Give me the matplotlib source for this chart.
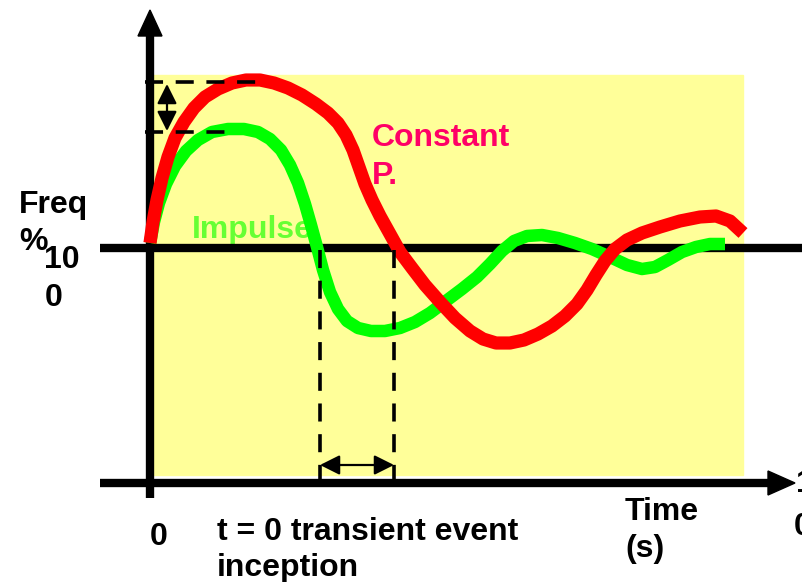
import matplotlib.pyplot as plt

# schematic, units are picture pixels (y grows downward)
red_x = [150, 153, 157, 162, 168, 175, 184, 194, 205, 218, 232, 246, 260, 274, 288, 302, 316,
         328, 338, 346, 353, 359, 365, 372, 380, 390, 400, 412, 425, 440, 455, 470, 483, 496,
         510, 524, 538, 552, 565, 577, 587, 596, 605, 615, 627, 642, 660, 680, 700, 716, 730,
         743]
red_y = [243, 222, 200, 178, 157, 138, 122, 108, 97, 89, 83, 80, 80, 83, 88, 95, 104,
         113, 123, 135, 150, 167, 184, 200, 216, 234, 252, 268, 285, 302, 318, 331, 339, 343,
         343, 340, 334, 326, 316, 304, 290, 275, 261, 249, 240, 233, 227, 221, 217, 216, 221,
         233]

green_x = [150, 154, 159, 166, 175, 186, 198, 212, 228, 244, 258, 270, 281, 290, 298, 305, 311,
           317, 323, 330, 338, 347, 358, 371, 385, 400, 415, 430, 446, 462, 477, 490, 502, 514,
           527, 542, 558, 575, 592, 610, 627, 642, 655, 668, 682, 696, 710, 725]
green_y = [243, 222, 203, 184, 166, 151, 140, 132, 129, 129, 132, 139, 150, 165, 183, 204, 225,
           247, 270, 292, 309, 321, 328, 331, 331, 328, 322, 313, 301, 289, 277, 264, 251, 241,
           236, 235, 238, 243, 249, 257, 265, 269, 267, 260, 252, 247, 244, 244]

fig = plt.figure(figsize=(8.02, 5.82), dpi=100)
ax = fig.add_axes([0, 0, 1, 1])
ax.set_xlim(0, 802)
ax.set_ylim(582, 0)
ax.axis('off')

# yellow background
ax.add_patch(plt.Rectangle((150, 75), 593, 400, color='#FFFF99', zorder=0))

# axes
ax.plot([100, 802], [248, 248], color='black', lw=6, solid_capstyle='butt', zorder=2)
ax.plot([150, 150], [498, 30], color='black', lw=6, solid_capstyle='butt', zorder=2)
ax.plot([100, 775], [483, 483], color='black', lw=6, solid_capstyle='butt', zorder=2)
ax.add_patch(plt.Polygon([[138, 36], [162, 36], [150, 10]], color='black', zorder=3))
ax.add_patch(plt.Polygon([[768, 471], [768, 495], [795, 483]], color='black', zorder=3))

# dashed guides
dash = dict(color='black', lw=2.6, dashes=(5, 3.5), zorder=4)
ax.plot([145, 262], [82, 82], **dash)
ax.plot([145, 235], [132, 132], **dash)
ax.plot([320, 320], [250, 490], **dash)
ax.plot([394, 394], [250, 490], **dash)

arr = dict(arrowstyle='<|-|>', color='black', lw=1.6, mutation_scale=30, shrinkA=0, shrinkB=0)
ax.annotate('', xy=(167, 84), xytext=(167, 131), arrowprops=arr, zorder=5)
ax.annotate('', xy=(320, 465), xytext=(394, 465), arrowprops=arr, zorder=5)

# curves
ax.plot(green_x, green_y, color='#00FF00', lw=9, solid_joinstyle='round', solid_capstyle='butt', zorder=3)
ax.plot(red_x, red_y, color='#FF0000', lw=9.5, solid_joinstyle='round', solid_capstyle='butt', zorder=3)

font = dict(family=['Liberation Sans', 'DejaVu Sans'], fontsize=23, fontweight='bold', va='baseline')
ax.text(372, 146, 'Constant', color='#FF0066', **font)
ax.text(372, 184, 'P.', color='#FF0066', **font)
ax.text(192, 238, 'Impulse', color='#66FF33', zorder=1, **font)
ax.text(19, 213, 'Freq', color='black', **font)
ax.text(19, 250, '%', color='black', **font)
ax.text(44, 268, '10', color='black', **font)
ax.text(45, 306, '0', color='black', **font)
ax.text(150, 545, '0', color='black', **font)
ax.text(217, 540, 't = 0 transient event', color='black', **font)
ax.text(217, 576, 'inception', color='black', **font)
ax.text(625, 520, 'Time', color='black', **font)
ax.text(625, 557, '(s)', color='black', **font)
ax.text(796, 492, '1', color='black', **font)
ax.text(794, 535, '0', color='black', **font)

fig.savefig('out.png', dpi=100)
